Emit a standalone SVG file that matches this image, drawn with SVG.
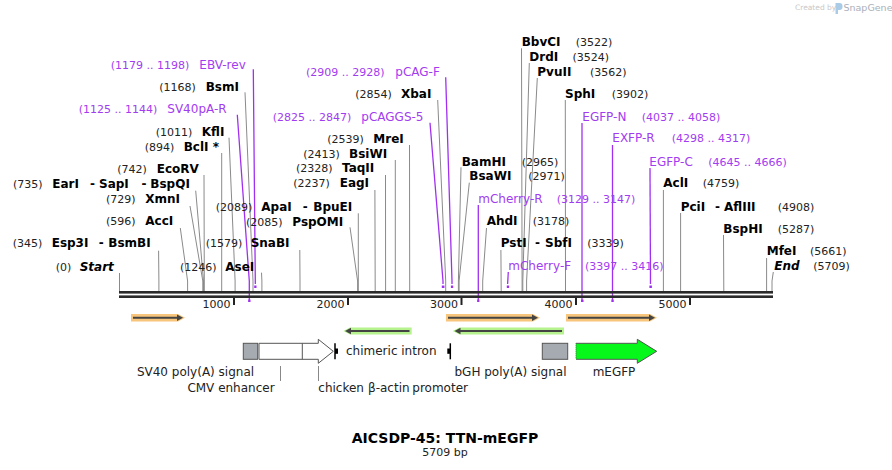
<svg xmlns="http://www.w3.org/2000/svg" width="892" height="470" viewBox="0 0 892 470">
<style>
text{font-family:"DejaVu Sans",Verdana,"Liberation Sans",sans-serif}
.n{font-size:11px;fill:#222}
.b{font-size:12px;font-weight:bold;fill:#000}
.bi{font-size:12px;font-weight:bold;font-style:italic;fill:#000}
.p{font-size:12px;fill:#a23cf0}
.pn{font-size:11px;fill:#a23cf0}
.f{font-size:12px;fill:#222}
.t{font-size:11px;fill:#222}
.site{stroke:#8a8a8a;stroke-width:1;fill:none}
.pl{stroke:#a030f0;stroke-width:1.3;fill:none}
.pm{fill:#a030f0}
.tick{stroke:#222;stroke-width:2}
.fo{fill:#f7c67c}
.fg{fill:#b6f28e}
.ar{stroke:#444;stroke-width:2}
.ah{fill:#444}
.ptr{stroke:#888;stroke-width:1}
</style>

<!-- watermark -->
<g id="watermark">
<text x="795" y="10" style="font-size:7.5px;fill:#c8c8c8">Created by</text>
<path d="M835.5,3 h4 a3,3 0 0 1 3,3 v1 a3,3 0 0 1 -3,3 h-1.5 v4 h-2.5 z" fill="#a9cbe6"/>
<text x="843.5" y="10.5" style="font-size:9.5px;fill:#aab0ba">SnapGene</text>
</g>

<!-- connectors (site lines) -->
<g id="connectors">
<polyline class="site" points="119.5,273 119.5,291"/>
<polyline class="site" points="158.6,250.7 158.9,281 158.9,291"/>
<polyline class="site" points="180.3,228 187.6,281 187.6,291"/>
<polyline class="site" points="190,206 202.8,281 202.8,291"/>
<polyline class="site" points="195.7,190.7 203.5,281 203.5,291"/>
<polyline class="site" points="204,175 204.3,281 204.3,291"/>
<polyline class="site" points="221.7,153 221.7,291"/>
<polyline class="site" points="229,137.7 235.1,281 235.1,291"/>
<polyline class="site" points="245,92.3 253,281 253,291"/>
<polyline class="site" points="261.5,272.7 261.9,281 261.9,291"/>
<polyline class="site" points="299.8,250 300,281 300,291"/>
<polyline class="site" points="358.3,213.3 358.3,291"/>
<polyline class="site" points="350,227.3 357.6,281 357.6,291"/>
<polyline class="site" points="374.9,190 375.2,291"/>
<polyline class="site" points="385.5,175 385.6,291"/>
<polyline class="site" points="395.3,160 395.3,291"/>
<polyline class="site" points="409.5,145 409.7,291"/>
<polyline class="site" points="437.7,100 445.7,281 445.7,291"/>
<polyline class="site" points="461,167.3 458.4,281 458.4,291"/>
<polyline class="site" points="469.3,182.7 459.1,281 459.1,291"/>
<polyline class="site" points="486.5,228 482.7,281 482.7,291"/>
<polyline class="site" points="500.9,250 501.2,291"/>
<polyline class="site" points="521.5,48.3 522.1,281 522.1,291"/>
<polyline class="site" points="529.3,63 522.8,281 522.8,291"/>
<polyline class="site" points="537.3,78 526.6,281 526.6,291"/>
<polyline class="site" points="565.3,100 565.5,291"/>
<polyline class="site" points="663.4,190 663.4,291"/>
<polyline class="site" points="680.6,213 680.6,291"/>
<polyline class="site" points="723.5,235 723.8,291"/>
<polyline class="site" points="766.6,258 766.6,291"/>
<polyline class="site" points="773.3,272 772,281 772,291"/>
<!-- primers -->
<polyline class="pl" points="253.3,69.3 255.3,281 255.3,284"/>
<rect class="pm" x="254.2" y="285.5" width="2.3" height="2.5"/>
<polyline class="pl" points="237.3,114.7 249.3,281 249.3,302"/>
<rect class="pm" x="248.2" y="299.5" width="2.3" height="2.5"/>
<polyline class="pl" points="430,122.7 443,281 443,284"/>
<rect class="pm" x="441.8" y="285.5" width="2.6" height="2.5"/>
<polyline class="pl" points="445.7,77.3 452,281 452,284"/>
<rect class="pm" x="450.9" y="285.5" width="2.3" height="2.5"/>
<polyline class="pl" points="478.3,205 478.3,302"/>
<rect class="pm" x="477.2" y="299.5" width="2.2" height="2.5"/>
<polyline class="pl" points="508.3,272 507.6,284"/>
<rect class="pm" x="506.8" y="285.5" width="2.3" height="2.5"/>
<polyline class="pl" points="582,123 582,302"/>
<rect class="pm" x="581" y="299.5" width="2.5" height="2.5"/>
<polyline class="pl" points="612.5,145 612.5,302"/>
<rect class="pm" x="611.4" y="299.5" width="2.3" height="2.5"/>
<polyline class="pl" points="650,168 650.5,284"/>
<rect class="pm" x="649.4" y="285.5" width="2.5" height="2.5"/>
</g>

<!-- backbone -->
<g id="backbone">
<rect x="119" y="291" width="654" height="2.6" fill="#2a2a2a"/>
<rect x="119" y="295.4" width="654" height="2.6" fill="#2a2a2a"/>
<line class="tick" x1="234" y1="298" x2="234" y2="305"/>
<line class="tick" x1="348" y1="298" x2="348" y2="305"/>
<line class="tick" x1="461.5" y1="298" x2="461.5" y2="305"/>
<line class="tick" x1="576" y1="298" x2="576" y2="305"/>
<line class="tick" x1="690" y1="298" x2="690" y2="305"/>
<text class="t" x="230.5" y="307.5" text-anchor="end">1000</text>
<text class="t" x="344.5" y="307.5" text-anchor="end">2000</text>
<text class="t" x="458" y="307.5" text-anchor="end">3000</text>
<text class="t" x="572.5" y="307.5" text-anchor="end">4000</text>
<text class="t" x="686.5" y="307.5" text-anchor="end">5000</text>
</g>

<!-- left labels -->
<g id="EBV-rev"><text class="pn" x="110.7" y="68.5">(1179 .. 1198)</text><text class="p" x="199.3" y="68.5">EBV-rev</text></g>
<g id="BsmI"><text class="n" x="159.3" y="90.5">(1168)</text><text class="b" x="205.7" y="90.5">BsmI</text></g>
<g id="SV40pA-R"><text class="pn" x="78.7" y="112.7">(1125 .. 1144)</text><text class="p" x="167.3" y="112.7">SV40pA-R</text></g>
<g id="KflI"><text class="n" x="155.7" y="135.7">(1011)</text><text class="b" x="201.7" y="135.7">KflI</text></g>
<g id="BclI"><text class="n" x="144.7" y="150.7">(894)</text><text class="b" x="183.7" y="150.7">BclI *</text></g>
<g id="EcoRV"><text class="n" x="117.3" y="172.7">(742)</text><text class="b" x="156.7" y="172.7">EcoRV</text></g>
<g id="EarI"><text class="n" x="13" y="188.3">(735)</text><text class="b" y="188.3"><tspan x="52.3">EarI</tspan><tspan x="90">-</tspan><tspan x="99">SapI</tspan><tspan x="141.5">-</tspan><tspan x="150.3">BspQI</tspan></text></g>
<g id="XmnI"><text class="n" x="106" y="203.3">(729)</text><text class="b" x="145.3" y="203.3">XmnI</text></g>
<g id="AccI"><text class="n" x="106" y="225">(596)</text><text class="b" x="145.3" y="225">AccI</text></g>
<g id="Esp3I"><text class="n" x="12.7" y="247.3">(345)</text><text class="b" y="247.3"><tspan x="51.7">Esp3I</tspan><tspan x="98.7">-</tspan><tspan x="108.3">BsmBI</tspan></text></g>
<g id="Start"><text class="n" x="55.7" y="270.7">(0)</text><text class="bi" x="79.7" y="270.7">Start</text></g>
<g id="AseI"><text class="n" x="180" y="270.7">(1246)</text><text class="b" x="225.3" y="270.7">AseI</text></g>
<g id="SnaBI"><text class="n" x="205.7" y="247.3">(1579)</text><text class="b" x="250.7" y="247.3">SnaBI</text></g>
<g id="ApaI"><text class="n" x="215.7" y="210.9">(2089)</text><text class="b" y="210.9"><tspan x="261.3">ApaI</tspan><tspan x="302.7">-</tspan><tspan x="313.3">BpuEI</tspan></text></g>
<g id="PspOMI"><text class="n" x="246" y="226">(2085)</text><text class="b" x="292.3" y="226">PspOMI</text></g>
<g id="EagI"><text class="n" x="293.3" y="187.3">(2237)</text><text class="b" x="339.7" y="187.3">EagI</text></g>
<g id="TaqII"><text class="n" x="296" y="172.3">(2328)</text><text class="b" x="342" y="172.3">TaqII</text></g>
<g id="BsiWI"><text class="n" x="303.3" y="157.7">(2413)</text><text class="b" x="349" y="157.7">BsiWI</text></g>
<g id="MreI"><text class="n" x="327.3" y="142.7">(2539)</text><text class="b" x="373.3" y="142.7">MreI</text></g>
<g id="pCAGGS-5"><text class="pn" x="272.7" y="120.7">(2825 .. 2847)</text><text class="p" x="361.3" y="120.7">pCAGGS-5</text></g>
<g id="XbaI"><text class="n" x="355.3" y="97.7">(2854)</text><text class="b" x="401" y="97.7">XbaI</text></g>
<g id="pCAG-F"><text class="pn" x="306" y="75.7">(2909 .. 2928)</text><text class="p" x="395.3" y="75.7">pCAG-F</text></g>

<!-- right labels -->
<g id="BbvCI"><text class="b" x="521.7" y="46">BbvCI</text><text class="n" x="575.7" y="46">(3522)</text></g>
<g id="DrdI"><text class="b" x="529.3" y="60.7">DrdI</text><text class="n" x="572.5" y="60.7">(3524)</text></g>
<g id="PvuII"><text class="b" x="537.3" y="75.7">PvuII</text><text class="n" x="590" y="75.7">(3562)</text></g>
<g id="SphI"><text class="b" x="565" y="97.7">SphI</text><text class="n" x="611.7" y="97.7">(3902)</text></g>
<g id="EGFP-N"><text class="p" x="582.3" y="120.7">EGFP-N</text><text class="pn" x="641.7" y="120.7">(4037 .. 4058)</text></g>
<g id="EXFP-R"><text class="p" x="612.3" y="142.3">EXFP-R</text><text class="pn" x="671.7" y="142.3">(4298 .. 4317)</text></g>
<g id="EGFP-C"><text class="p" x="649.3" y="165.7">EGFP-C</text><text class="pn" x="708.3" y="165.7">(4645 .. 4666)</text></g>
<g id="BamHI"><text class="b" x="461.7" y="166">BamHI</text><text class="n" x="521.7" y="166">(2965)</text></g>
<g id="BsaWI"><text class="b" x="469.3" y="180">BsaWI</text><text class="n" x="528.3" y="180">(2971)</text></g>
<g id="mCherry-R"><text class="p" x="478.3" y="202.7">mCherry-R</text><text class="pn" x="556.7" y="202.7">(3129 .. 3147)</text></g>
<g id="AhdI"><text class="b" x="486.7" y="225">AhdI</text><text class="n" x="532.7" y="225">(3178)</text></g>
<g id="PstI"><text class="b" y="247.3"><tspan x="500.7">PstI</tspan><tspan x="535">-</tspan><tspan x="545">SbfI</tspan></text><text class="n" x="587.3" y="247.3">(3339)</text></g>
<g id="mCherry-F"><text class="p" x="508.3" y="270">mCherry-F</text><text class="pn" x="585" y="270">(3397 .. 3416)</text></g>
<g id="AclI"><text class="b" x="663.3" y="187.3">AclI</text><text class="n" x="702.7" y="187.3">(4759)</text></g>
<g id="PciI"><text class="b" y="210.7"><tspan x="680.7">PciI</tspan><tspan x="715">-</tspan><tspan x="724">AflIII</tspan></text><text class="n" x="777.7" y="210.7">(4908)</text></g>
<g id="BspHI"><text class="b" x="723.3" y="232.7">BspHI</text><text class="n" x="777.7" y="232.7">(5287)</text></g>
<g id="MfeI"><text class="b" x="766.7" y="255.3">MfeI</text><text class="n" x="810" y="255.3">(5661)</text></g>
<g id="End"><text class="bi" x="774.3" y="270">End</text><text class="n" x="813.3" y="270">(5709)</text></g>

<!-- thin feature arrows -->
<g id="orf1"><path class="fo" d="M131,314 H178 L185,317.75 L178,321.5 H131 Z"/><line class="ar" x1="133" y1="317.75" x2="178" y2="317.75"/><path class="ah" d="M177,314.6 L183,317.75 L177,320.9 Z"/></g>
<g id="orf2"><path class="fo" d="M446,314 H533 L540,317.75 L533,321.5 H446 Z"/><line class="ar" x1="448" y1="317.75" x2="533" y2="317.75"/><path class="ah" d="M532,314.6 L538,317.75 L532,320.9 Z"/></g>
<g id="orf3"><path class="fo" d="M566,314 H650 L657,317.75 L650,321.5 H566 Z"/><line class="ar" x1="568" y1="317.75" x2="650" y2="317.75"/><path class="ah" d="M649,314.6 L655,317.75 L649,320.9 Z"/></g>
<g id="orf4"><path class="fg" d="M411.7,327.5 H350 L343.3,331 L350,334.5 H411.7 Z"/><line class="ar" x1="409.5" y1="331" x2="350" y2="331"/><path class="ah" d="M351,327.8 L345,331 L351,334.2 Z"/></g>
<g id="orf5"><path class="fg" d="M564,327.5 H459.5 L452.7,331 L459.5,334.5 H564 Z"/><line class="ar" x1="562" y1="331" x2="459.5" y2="331"/><path class="ah" d="M460.5,327.8 L454.5,331 L460.5,334.2 Z"/></g>

<!-- features -->
<g id="SV40-polyA"><rect x="243.3" y="343.3" width="14.4" height="16" fill="#a6abb1" stroke="#555" stroke-width="1"/>
<text class="f" x="195.5" y="376" text-anchor="middle">SV40 poly(A) signal</text></g>
<g id="CMV-enhancer"><path d="M259,343.3 H318.3 V339.3 L333.3,351.3 L318.3,363.3 V359.3 H259 Z" fill="#fff" stroke="#555" stroke-width="1"/>
<line x1="302.3" y1="343.3" x2="302.3" y2="359.3" stroke="#555" stroke-width="1"/>
<line class="ptr" x1="280.5" y1="366" x2="280.5" y2="381"/>
<text class="f" x="231" y="391.7" text-anchor="middle">CMV enhancer</text></g>
<g id="chicken-actin-promoter"><line class="ptr" x1="318.5" y1="366" x2="318.5" y2="381"/>
<text class="f" y="391.7"><tspan x="318.3">chicken</tspan><tspan x="368">β-actin</tspan><tspan x="412.3">promoter</tspan></text></g>
<g id="chimeric-intron"><line x1="335" y1="343.3" x2="335" y2="359.3" stroke="#000" stroke-width="1.5"/><rect x="335" y="348.5" width="3" height="5.3" fill="#000"/>
<line x1="450.3" y1="343.3" x2="450.3" y2="359.3" stroke="#000" stroke-width="1.5"/><rect x="447.3" y="348.5" width="3" height="5.3" fill="#000"/>
<text class="f" x="346" y="354.5">chimeric intron</text></g>
<g id="bGH-polyA"><rect x="542.3" y="343.3" width="25.4" height="16" fill="#a6abb1" stroke="#555" stroke-width="1"/>
<text class="f" x="510.5" y="376" text-anchor="middle">bGH poly(A) signal</text></g>
<g id="mEGFP"><path d="M576,343.3 H637.3 V339.3 L656.7,351.3 L637.3,363.3 V359.3 H576" fill="#05f81a" stroke="#555" stroke-width="1"/>
<line x1="576" y1="343.3" x2="576" y2="359.3" stroke="#555" stroke-width="1" stroke-dasharray="1,1"/>
<text class="f" x="614" y="376" text-anchor="middle">mEGFP</text></g>

<!-- title -->
<g id="title"><text x="445" y="443.3" text-anchor="middle" style="font-size:14px;font-weight:bold;fill:#000">AICSDP-45: TTN-mEGFP</text>
<text x="445" y="455.7" text-anchor="middle" style="font-size:11px;fill:#222">5709 bp</text></g>
</svg>
